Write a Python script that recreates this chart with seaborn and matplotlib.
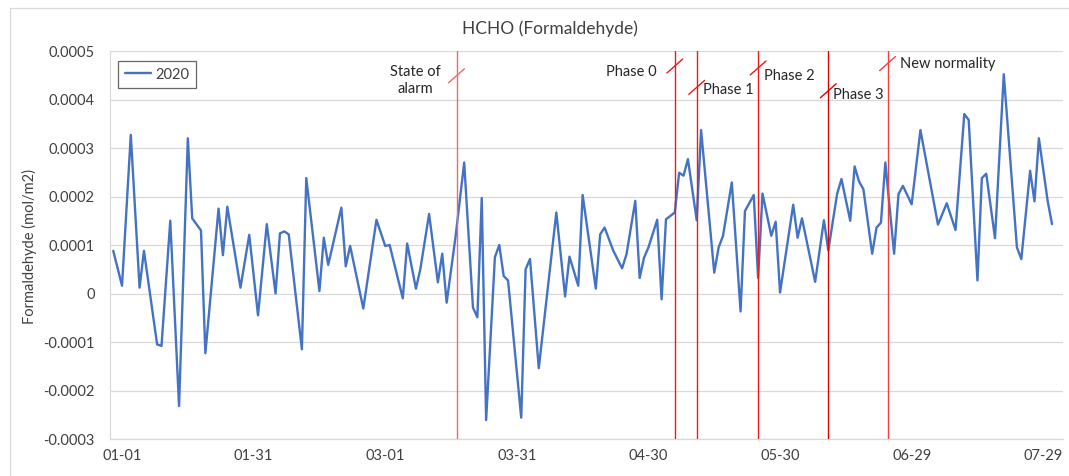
import numpy as np
import pandas as pd
import matplotlib
matplotlib.use("Agg")
import matplotlib.pyplot as plt
from matplotlib.lines import Line2D
import seaborn as sns

# ---- data (HCHO column; values in units of 1e-4 mol/m2) ----
dates = [
    "2019-12-30", "2020-01-01", "2020-01-03", "2020-01-05", "2020-01-06", "2020-01-09",
    "2020-01-10", "2020-01-12", "2020-01-14", "2020-01-16", "2020-01-17", "2020-01-19",
    "2020-01-20", "2020-01-23", "2020-01-24", "2020-01-25", "2020-01-28", "2020-01-30",
    "2020-02-01", "2020-02-03", "2020-02-05", "2020-02-06", "2020-02-07", "2020-02-08",
    "2020-02-11", "2020-02-12", "2020-02-15", "2020-02-16", "2020-02-17", "2020-02-20",
    "2020-02-21", "2020-02-22", "2020-02-25", "2020-02-28", "2020-03-01", "2020-03-02",
    "2020-03-05", "2020-03-06", "2020-03-08", "2020-03-09", "2020-03-11", "2020-03-13",
    "2020-03-14", "2020-03-15", "2020-03-17", "2020-03-19", "2020-03-21", "2020-03-22",
    "2020-03-23", "2020-03-24", "2020-03-26", "2020-03-27", "2020-03-28", "2020-03-29",
    "2020-04-01", "2020-04-02", "2020-04-03", "2020-04-05", "2020-04-09", "2020-04-11",
    "2020-04-12", "2020-04-14", "2020-04-15", "2020-04-18", "2020-04-19", "2020-04-20",
    "2020-04-22", "2020-04-24", "2020-04-25", "2020-04-27", "2020-04-28", "2020-04-29",
    "2020-04-30", "2020-05-02", "2020-05-03", "2020-05-04", "2020-05-06", "2020-05-07",
    "2020-05-08", "2020-05-09", "2020-05-11", "2020-05-12", "2020-05-15", "2020-05-16",
    "2020-05-17", "2020-05-19", "2020-05-21", "2020-05-22", "2020-05-24", "2020-05-25",
    "2020-05-26", "2020-05-28", "2020-05-29", "2020-05-30", "2020-06-02", "2020-06-03",
    "2020-06-04", "2020-06-07", "2020-06-09", "2020-06-10", "2020-06-12", "2020-06-13",
    "2020-06-15", "2020-06-16", "2020-06-17", "2020-06-18", "2020-06-20", "2020-06-21",
    "2020-06-22", "2020-06-23", "2020-06-25", "2020-06-26", "2020-06-27", "2020-06-29",
    "2020-07-01", "2020-07-05", "2020-07-07", "2020-07-09", "2020-07-11", "2020-07-12",
    "2020-07-14", "2020-07-15", "2020-07-16", "2020-07-18", "2020-07-20", "2020-07-23",
    "2020-07-24", "2020-07-26", "2020-07-27", "2020-07-28", "2020-07-30", "2020-07-31",
]
hcho_e4 = [
    0.88, 0.16, 3.27, 0.12, 0.88, -1.05,
    -1.08, 1.50, -2.32, 3.20, 1.55, 1.30,
    -1.23, 1.75, 0.79, 1.79, 0.12, 1.21,
    -0.45, 1.43, 0.00, 1.24, 1.28, 1.22,
    -1.15, 2.38, 0.05, 1.15, 0.59, 1.77,
    0.56, 0.98, -0.31, 1.52, 0.98, 1.00,
    -0.10, 1.03, 0.10, 0.50, 1.64, 0.23,
    0.82, -0.19, 1.15, 2.70, -0.29, -0.49,
    1.97, -2.61, 0.75, 1.00, 0.36, 0.27,
    -2.56, 0.50, 0.71, -1.54, 1.67, -0.06,
    0.76, 0.16, 2.03, 0.10, 1.22, 1.36,
    0.88, 0.52, 0.81, 1.91, 0.32, 0.74,
    0.95, 1.52, -0.12, 1.53, 1.67, 2.49,
    2.43, 2.77, 1.51, 3.37, 0.43, 0.95,
    1.19, 2.29, -0.37, 1.70, 2.03, 0.32,
    2.06, 1.19, 1.48, 0.02, 1.83, 1.15,
    1.55, 0.24, 1.51, 0.89, 2.05, 2.36,
    1.50, 2.62, 2.31, 2.15, 0.82, 1.36,
    1.46, 2.70, 0.82, 2.05, 2.22, 1.84,
    3.37, 1.42, 1.86, 1.31, 3.70, 3.58,
    0.27, 2.38, 2.47, 1.14, 4.52, 0.95,
    0.71, 2.53, 1.90, 3.20, 1.91, 1.43,
]
series_name = "2020"

tick_dates = ["2020-01-01", "2020-01-31", "2020-03-01", "2020-03-31",
              "2020-04-30", "2020-05-30", "2020-06-29", "2020-07-29"]
ytick_vals = [-0.0003, -0.0002, -0.0001, 0, 0.0001, 0.0002, 0.0003, 0.0004, 0.0005]
ytick_labels = ["-0.0003", "-0.0002", "-0.0001", "0", "0.0001", "0.0002",
                "0.0003", "0.0004", "0.0005"]

event_dates = ["2020-03-17 06:00", "2020-05-06", "2020-05-11", "2020-05-25",
               "2020-06-10", "2020-06-23 12:00"]
event_labels = ["State of\nalarm", "Phase 0", "Phase 1", "Phase 2", "Phase 3", "New normality"]

# ---- figure ----
sns.set_theme(style="white")
plt.rcParams["font.family"] = ["Lato", "DejaVu Sans"]

W, H = 1069, 476
fig = plt.figure(figsize=(W / 100, H / 100), dpi=100)
fig.patch.set_facecolor("white")
left_px, right_px, top_px, bot_px = 110, 1063, 51, 439
ax = fig.add_axes([left_px / W, 1 - bot_px / H, (right_px - left_px) / W, (bot_px - top_px) / H])

df = pd.DataFrame({"date": pd.to_datetime(dates),
                   "hcho": np.array(hcho_e4) * 1e-4,
                   "series": series_name})

sns.lineplot(data=df, x="date", y="hcho", hue="series", palette=["#4472C4"],
             linewidth=1.7, ax=ax, solid_joinstyle="round", solid_capstyle="round")

jan1 = pd.Timestamp("2020-01-01")
ax.set_xlim(jan1 - pd.Timedelta(days=2.74), jan1 + pd.Timedelta(days=214.5))
ax.set_ylim(-0.0003, 0.0005)

ax.set_xticks(pd.to_datetime(tick_dates))
ax.set_xticklabels([pd.Timestamp(d).strftime("%m-%d") for d in tick_dates],
                   fontsize=10.5, color="#404040")
ax.set_yticks(ytick_vals)
ax.set_yticklabels(ytick_labels, fontsize=10.5, color="#404040")
ax.tick_params(axis="both", length=0)
ax.tick_params(axis="x", pad=7)
ax.tick_params(axis="y", pad=11)
ax.set_xlabel("")
ax.set_ylabel("")

ax.grid(axis="y", color="#D9D9D9", linewidth=0.9)
ax.grid(axis="x", visible=False)
for s in ["top", "right"]:
    ax.spines[s].set_visible(False)
for s in ["left", "bottom"]:
    ax.spines[s].set_color("#D9D9D9")
    ax.spines[s].set_linewidth(0.9)

# event lines
ev_colors = ["#EE6A6A", "#F01818", "#F01818", "#F01818", "#E00000", "#F04040"]
slash_y = [4.49e-4, 4.69e-4, 4.25e-4, 4.65e-4, 4.18e-4, 4.74e-4]
text_dx = [-29.5, -13, 4.3, 4.3, 3.6, 9]
text_y = [4.39e-4, 4.57e-4, 4.19e-4, 4.49e-4, 4.10e-4, 4.74e-4]
text_ha = ["center", "right", "left", "left", "left", "left"]
for d, lab, c, sy, dx, ty, ha in zip(event_dates, event_labels, ev_colors,
                                      slash_y, text_dx, text_y, text_ha):
    t = pd.Timestamp(d)
    ax.axvline(t, color=c, linewidth=1.0, zorder=3)
    half_d = pd.Timedelta(days=1.8)
    ax.plot([t - half_d, t + half_d], [sy - 0.144e-4, sy + 0.144e-4],
            color=c, linewidth=1.0, zorder=3)
    ax.annotate(lab, xy=(t, ty), xytext=(dx, 0), textcoords="offset points",
                ha=ha, va="center", fontsize=10.5, color="#262626",
                linespacing=1.25, zorder=4)

leg = ax.legend(loc="upper left", bbox_to_anchor=((118 - left_px) / (right_px - left_px),
                                                  (bot_px - 61) / (bot_px - top_px)),
                borderaxespad=0, frameon=True, fancybox=False, fontsize=10.5,
                handlelength=1.8, handletextpad=0.3, borderpad=0.45)
leg.get_frame().set_edgecolor("#404040")
leg.get_frame().set_linewidth(0.9)
for txt in leg.get_texts():
    txt.set_color("#404040")

fig.text(550 / W, 1 - 29 / H, "HCHO (Formaldehyde)", ha="center", va="center",
         fontsize=12.5, color="#404040")
fig.text(29 / W, 1 - 246 / H, "Formaldehyde (mol/m2)", ha="center", va="center",
         rotation=90, fontsize=10.5, color="#404040")

# outer chart-area border (top and left edges visible in the screenshot)
fig.add_artist(Line2D([10 / W, 10 / W], [0, 1 - 7.5 / H], transform=fig.transFigure,
                      color="#D9D9D9", linewidth=0.9))
fig.add_artist(Line2D([10 / W, 1], [1 - 7.5 / H, 1 - 7.5 / H], transform=fig.transFigure,
                      color="#D9D9D9", linewidth=0.9))

fig.savefig("out.png", dpi=100, facecolor="white")
